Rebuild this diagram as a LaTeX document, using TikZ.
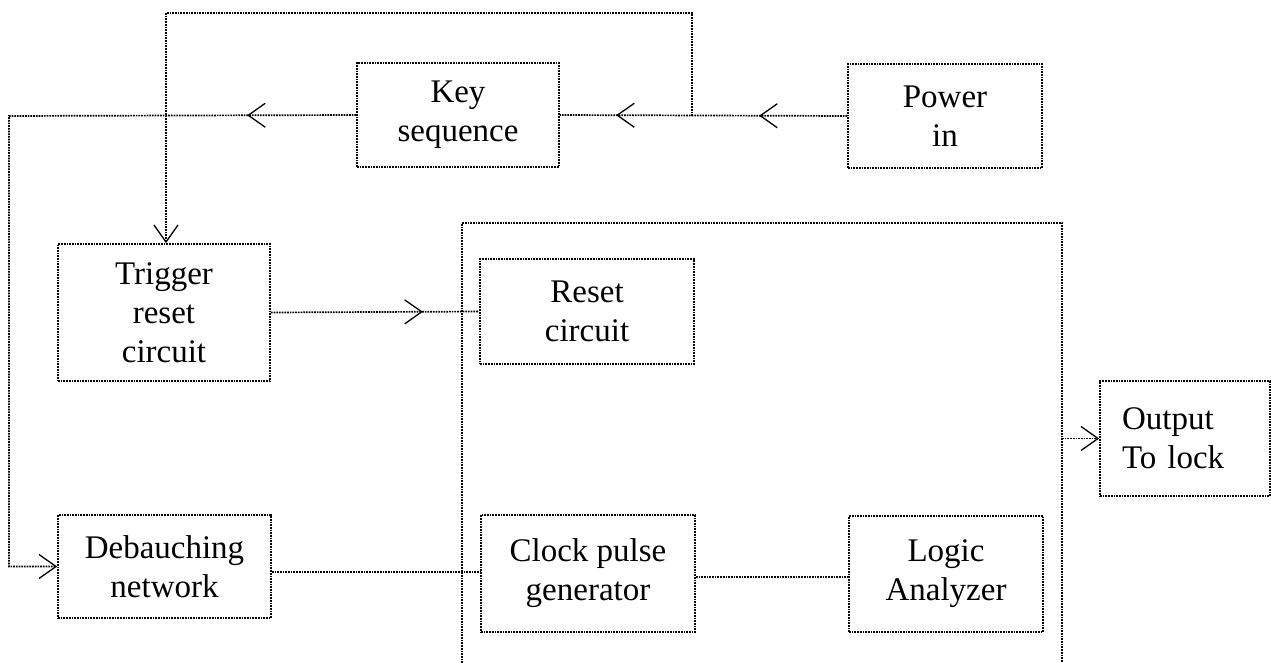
\documentclass[tikz,border=0pt]{standalone}
\usepackage{fontspec}
\setmainfont{Liberation Serif}
\usetikzlibrary{arrows.meta,decorations.markings}
\begin{document}
\begin{tikzpicture}[x=1pt,y=-1pt,
  dots/.style={line width=1.7pt,dash pattern=on 1.7pt off 1.0pt},
  blk/.style={draw,dots,rectangle,inner sep=0pt,align=center,
    font=\fontsize{33}{39}\selectfont},
  barb/.tip={Straight Barb[length=17pt,width=24pt,line width=1.3pt]},
  conn/.style={draw,dots},
  tipat/.style={postaction=decorate,
    decoration={markings,mark=at position #1 with {\arrow{barb}}}}
]
\useasboundingbox (0,0) rectangle (1271,663);

% blocks
\node[blk,minimum width=202pt,minimum height=104pt] (key) at (458,115) {Key\\sequence};
\node[blk,minimum width=194pt,minimum height=104pt] (pw) at (945,116) {Power\\in};
\node[blk,minimum width=212pt,minimum height=137pt] (trig) at (164,312.5) {Trigger\\reset\\circuit};
\node[blk,minimum width=214pt,minimum height=105pt] (reset) at (587,311.5) {Reset\\circuit};
\node[blk,minimum width=213pt,minimum height=103pt] (deb) at (164.5,566.5) {Debauching\\network};
\node[blk,minimum width=214pt,minimum height=117pt] (clock) at (588,573.5) {Clock pulse\\generator};
\node[blk,minimum width=194pt,minimum height=116pt] (logic) at (946,574) {Logic\\Analyzer};
\node[blk,align=left,text width=126pt,inner xsep=22pt,minimum height=115pt] (out) at (1185,438.5) {Output\\To lock};

% enclosing (open) box
\coordinate (bbl) at (462,663);
\coordinate (btl) at (462,223);
\coordinate (btr) at (1062,223);
\coordinate (bbr) at (1062,663);
\draw[dots] (bbl) -- (btl) -- (btr) -- (bbr);
\coordinate (bo) at (1062,438.5);

% junctions
\coordinate (j1) at (692,116);
\coordinate (tr) at (692,13);
\coordinate (tl) at (166,13);
\coordinate (lc) at (9,116);
\coordinate (lb) at (9,566.5);

% power -> key (two mid arrows)
\draw[conn,postaction=decorate,
  decoration={markings,
    mark=at position 88pt with {\arrow{barb}},
    mark=at position 231pt with {\arrow{barb}}}]
  (pw.west) -- (key.east);

% feedback loop to trigger
\draw[conn,-barb] (j1) -- (tr) -- (tl) -- (tl |- trig.north);

% key -> debauching
\draw[conn,-barb,tipat=109pt] (key.west) -- (lc) -- (lb) -- (deb.west);

% trigger -> reset
\draw[conn,tipat=152pt] (trig.east) -- (reset.west);

% debauching -> clock
\draw[conn] ([yshift=-5.5pt]deb.east) -- ([yshift=-5.5pt]deb.east -| clock.west);

% clock -> logic
\draw[conn] ([yshift=-3.5pt]clock.east) -- ([yshift=-3.5pt]clock.east -| logic.west);

% big box -> output
\draw[conn,-barb] (bo) -- (out.west);
\end{tikzpicture}
\end{document}
